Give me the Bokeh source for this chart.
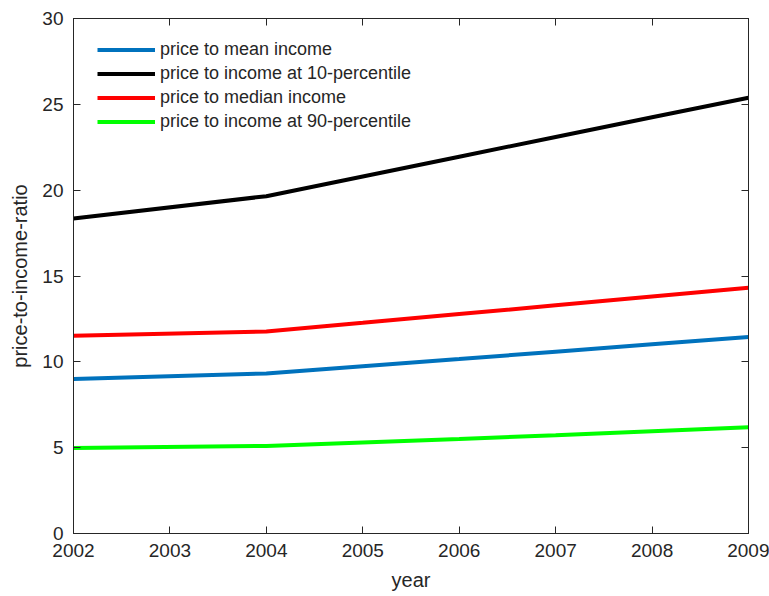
from bokeh.plotting import figure
from bokeh.models import (ColumnDataSource, Legend, LegendItem, LinearAxis,
                          FixedTicker, Range1d, CustomLabelingPolicy)
from bokeh.embed import file_html
from bokeh.resources import INLINE

# Price-to-income ratios by year
years = [2002, 2004, 2005, 2006, 2007, 2008, 2009]
mean_income = [9.0, 9.32, 9.74, 10.16, 10.59, 11.02, 11.45]
p10_income = [18.35, 19.65, 20.8, 21.95, 23.1, 24.25, 25.38]
median_income = [11.52, 11.77, 12.27, 12.78, 13.29, 13.8, 14.31]
p90_income = [4.98, 5.1, 5.3, 5.51, 5.73, 5.96, 6.19]

x_ticks = [2002, 2003, 2004, 2005, 2006, 2007, 2008, 2009]
y_ticks = [0, 5, 10, 15, 20, 25, 30]

series = [
    ("price to mean income", mean_income, "#0072BD"),
    ("price to income at 10-percentile", p10_income, "#000000"),
    ("price to median income", median_income, "#FF0000"),
    ("price to income at 90-percentile", p90_income, "#00FF00"),
]

FONT = "Liberation Sans"
TXT = "#262626"

p = figure(width=769, height=596, output_backend="svg", toolbar_location=None,
           x_range=Range1d(2002, 2009), y_range=Range1d(0, 30),
           min_border_left=73, min_border_right=21,
           min_border_top=18, min_border_bottom=63)
p.xgrid.visible = False
p.ygrid.visible = False
p.outline_line_color = TXT
p.outline_line_width = 1
p.background_fill_color = "white"
p.border_fill_color = "white"

items = []
for label, vals, color in series:
    src = ColumnDataSource(dict(x=years, y=vals))
    r = p.line("x", "y", source=src, line_color=color, line_width=4)
    items.append(LegendItem(label=label, renderers=[r]))

# hides every tick label on the mirrored (top/right) axes
no_labels = CustomLabelingPolicy(code="""
    for (const i of Array.from(indices)) indices.unset(i)
    return indices
""")


def style_axis(ax, show_labels):
    ax.major_tick_in = 7
    ax.major_tick_out = 0
    ax.minor_tick_in = 0
    ax.minor_tick_out = 0
    ax.axis_line_color = TXT
    ax.major_tick_line_color = TXT
    ax.major_label_text_font = FONT
    ax.major_label_text_color = TXT
    ax.major_label_text_font_size = "19px"
    ax.axis_label_text_font = FONT
    ax.axis_label_text_color = TXT
    ax.axis_label_text_font_size = "20px"
    ax.axis_label_text_font_style = "normal"
    if not show_labels:
        ax.major_label_policy = no_labels
        ax.major_label_text_font_size = "0px"
        ax.major_label_standoff = 0


xa = p.xaxis[0]
xa.ticker = FixedTicker(ticks=x_ticks)
xa.axis_label = "year"
xa.major_label_standoff = 10
xa.axis_label_standoff = 9
style_axis(xa, True)

ya = p.yaxis[0]
ya.ticker = FixedTicker(ticks=y_ticks)
ya.axis_label = "price-to-income-ratio"
ya.major_label_standoff = 10
ya.axis_label_standoff = 8
style_axis(ya, True)

top = LinearAxis(ticker=FixedTicker(ticks=x_ticks))
style_axis(top, False)
p.add_layout(top, "above")
right = LinearAxis(ticker=FixedTicker(ticks=y_ticks))
style_axis(right, False)
p.add_layout(right, "right")

legend = Legend(items=items, location=(24, 401), margin=0, padding=0,
                border_line_color=None, background_fill_alpha=0,
                label_text_font=FONT, label_text_font_size="18px",
                label_text_color=TXT, glyph_width=58, glyph_height=21,
                label_height=21, label_standoff=5, spacing=3)
p.add_layout(legend, "center")

open("out.html", "w").write(file_html(p, INLINE))
